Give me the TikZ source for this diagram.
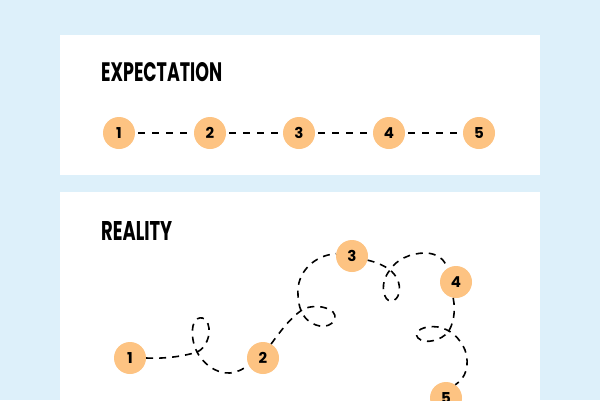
\documentclass[tikz,border=0pt]{standalone}
\usepackage{fontspec}
\usepackage{graphicx}
\setmainfont{Poppins}
\definecolor{bgblue}{HTML}{DDF0FA}
\definecolor{blob}{HTML}{FDC382}
\tikzset{
  panel/.style={fill=white, draw=none},
  blobnode/.style={circle, fill=blob, draw=none, minimum size=32pt, inner sep=0pt, font=\fontsize{15}{15}\selectfont\bfseries},
  route/.style={draw=black, line width=1.6pt, dash pattern=on 7pt off 6pt},
  heading/.style={anchor=south west, inner sep=0pt}
}
\begin{document}
\begin{tikzpicture}[x=1pt,y=-1pt]
\useasboundingbox (0,0) rectangle (600,400);
\fill[bgblue] (0,0) rectangle (600,400);
\path[panel] (60,35) rectangle (540,175);
\path[panel] (60,192) rectangle (540,400);

\node[heading] (t1) at (101,82) {\resizebox{121pt}{19pt}{\bfseries EXPECTATION}};
\node[heading] (t2) at (101,241) {\resizebox{71pt}{19pt}{\bfseries REALITY}};

% expectation
\node[blobnode] (e1) at (119,133) {1};
\node[blobnode] (e2) at (210,133) {2};
\node[blobnode] (e3) at (299,133) {3};
\node[blobnode] (e4) at (389,133) {4};
\node[blobnode] (e5) at (479,133) {5};
\foreach \a/\b in {e1/e2,e2/e3,e3/e4,e4/e5}
  \draw[route, dash pattern=on 7pt off 7pt] ([xshift=3pt]\a.east) -- (\b.west);

% reality
\node[blobnode] (r1) at (130,358) {1};
\node[blobnode] (r2) at (263,358) {2};
\node[blobnode] (r3) at (352,256) {3};
\node[blobnode] (r4) at (456,282) {4};
\node[blobnode] (r5) at (446,398) {5};

\draw[route] (r1.east) .. controls (165,359) and (185,356) .. (197,352)
  .. controls (205,349) and (212,335) .. (208,324)
  .. controls (205,315) and (195,316) .. (193,326)
  .. controls (191,336) and (194,346) .. (197,352)
  .. controls (202,362) and (215,374) .. (230,373)
  .. controls (238,372) and (244,369) .. (r2.205);

\draw[route] (r2.60) .. controls (280,332) and (290,318) .. (302,310)
  .. controls (310,305) and (325,305) .. (333,312)
  .. controls (340,320) and (328,330) .. (316,325)
  .. controls (306,321) and (299,314) .. (298,295)
  .. controls (296,272) and (315,255) .. (r3.172);

\draw[route] (r3.-15) .. controls (376,262) and (385,266) .. (390,270)
  .. controls (396,275) and (401,283) .. (399,293)
  .. controls (397,302) and (388,304) .. (385,296)
  .. controls (381,286) and (385,276) .. (390,270)
  .. controls (396,260) and (410,253) .. (425,253)
  .. controls (437,253) and (446,260) .. (r4.125);

\draw[route] (r4.-100) .. controls (456,312) and (453,325) .. (448,332)
  .. controls (442,340) and (425,345) .. (418,338)
  .. controls (412,331) and (425,325) .. (438,327)
  .. controls (450,329) and (460,338) .. (465,350)
  .. controls (470,365) and (466,378) .. (r5.55);
\end{tikzpicture}
\end{document}
